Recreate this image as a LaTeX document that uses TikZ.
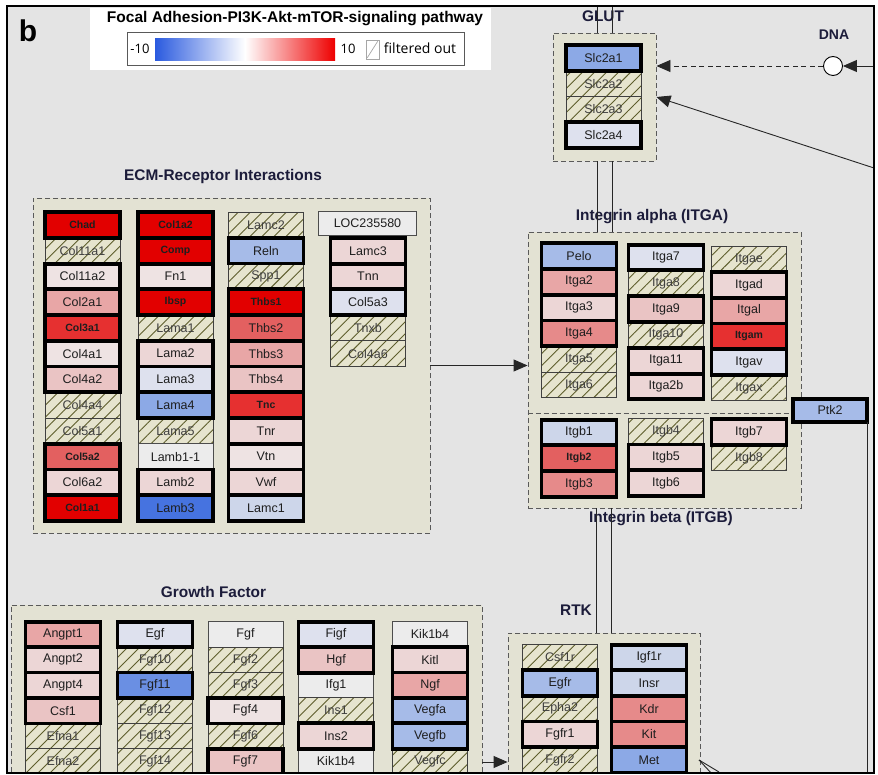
\documentclass[tikz,border=0pt]{standalone}
\usepackage{fontspec}
\setmainfont{Liberation Sans}
\newfontfamily\legfont{Open Sans}
\usetikzlibrary{patterns.meta,arrows.meta}
\definecolor{bgc}{HTML}{E4E4E4}
\definecolor{contbg}{HTML}{E3E2D3}
\definecolor{dashc}{HTML}{5A5A5A}
\definecolor{hatbg}{HTML}{E6E4CE}
\definecolor{hatln}{HTML}{5E5E2C}
\definecolor{txt}{HTML}{1E1E1E}
\definecolor{ttlc}{HTML}{1C1C3A}
\definecolor{cR1}{HTML}{E20000}
\definecolor{cR2}{HTML}{E63030}
\definecolor{cR3}{HTML}{E36060}
\definecolor{cR4}{HTML}{E68A8A}
\definecolor{cR5}{HTML}{E8A6A6}
\definecolor{cP1}{HTML}{EAC4C4}
\definecolor{cP2}{HTML}{ECD6D6}
\definecolor{cP3}{HTML}{EEE3E3}
\definecolor{cG}{HTML}{ECECEC}
\definecolor{cB1}{HTML}{DEE1EE}
\definecolor{cB2}{HTML}{CDD6EA}
\definecolor{cB3}{HTML}{A6BBE8}
\definecolor{cB4}{HTML}{8CA9E6}
\definecolor{cB5}{HTML}{4673E0}
\definecolor{cB6}{HTML}{6A8FE3}
\definecolor{legB}{HTML}{2A5ADF}
\definecolor{legR}{HTML}{EE0000}
\newcommand\gn[5]{\node[#1] (#2) at (#3,#4) {#5};}
\begin{document}
\begin{tikzpicture}[x=1pt,y=-1pt,
 gb/.style={rectangle, minimum width=75pt, minimum height=25.7pt, inner sep=0pt, outer sep=0pt, text=txt, font=\fontsize{12.5}{14}\selectfont},
 thk/.style={gb, draw=black, line width=3.8pt},
 thn/.style={gb, draw=gray!60!black, line width=0.8pt},
 hat/.style={gb, draw=gray!50!black, line width=0.8pt, preaction={fill=hatbg}, pattern={Lines[angle=45,distance=8.5pt,line width=0.9pt]}, pattern color=hatln, text=txt!85},
 bt/.style={font=\bfseries\fontsize{10.5}{12}\selectfont},
 cont/.style={rectangle, draw=dashc, dash pattern=on 5pt off 3pt, line width=0.9pt, fill=contbg, inner sep=0pt},
 ttl/.style={font=\bfseries\fontsize{15.4}{17}\selectfont, text=ttlc},
 conn/.style={draw=black!85, line width=0.9pt},
 tip/.style={-{Triangle[length=14pt,width=12pt]}}
]
\useasboundingbox (0,0) rectangle (878,775);
\fill[white] (0,0) rectangle (878,775);
\fill[bgc] (7,6) rectangle (874,773);
% legend
\fill[white] (90,8) rectangle (491,70);
\node[font=\bfseries\fontsize{15.5}{17}\selectfont] (legt) at (295,19) {Focal Adhesion-PI3K-Akt-mTOR-signaling pathway};
\draw[gray!70!black, line width=0.8pt] (127,32) rectangle (464,65);
\shade[left color=legB, right color=legR, middle color=white] (155,39) rectangle (335,61);
\node[font=\legfont\fontsize{13}{15}\selectfont] (lmin) at (140,49) {-10};
\node[font=\legfont\fontsize{13}{15}\selectfont] (lmax) at (348,49) {10};
\node[draw=gray!70, fill=white, minimum width=13pt, minimum height=19pt, inner sep=0pt] (lhat) at (372.5,49.5) {};
\draw[gray!70, line width=0.7pt] ([shift={(1.5,-1.5)}]lhat.south west) -- ([shift={(-1.5,1.5)}]lhat.north east);
\node[font=\legfont\fontsize{14}{16}\selectfont] (lfo) at (420,48.5) {filtered out};
\node[font=\bfseries\fontsize{30}{30}\selectfont] (lb) at (28,31) {b};

\begin{scope}
\clip (7,6) rectangle (874,773);
% containers
\node[cont, minimum width=103pt, minimum height=128pt] (glut) at (604.5,97) {};
\node[cont, minimum width=397pt, minimum height=335pt] (ecm) at (231.5,365.5) {};
\node[cont, minimum width=273pt, minimum height=276pt] (itg) at (664.5,370) {};
\node[cont, minimum width=471pt, minimum height=200pt] (gf) at (246.5,705) {};
\node[cont, minimum width=192pt, minimum height=180pt] (rtk) at (604,723) {};
\draw[dashc, dash pattern=on 5pt off 3pt, line width=0.9pt] (itg.west |- 0,413) -- (itg.east |- 0,413);
% titles
\node[ttl] (tglut) at (603,16) {GLUT};
\node[ttl] (tecm) at (223,177) {ECM-Receptor Interactions};
\node[ttl] (titga) at (652,217) {Integrin alpha (ITGA)};
\node[ttl] (titgb) at (661,519) {Integrin beta (ITGB)};
\node[ttl] (tgf) at (213.5,592) {Growth Factor};
\node[ttl] (trtk) at (576,610) {RTK};
\node[ttl, font=\bfseries\fontsize{14}{16}\selectfont] (tdna) at (834,35) {DNA};
% connectors
\draw[conn] ([xshift=-7.5pt]glut.north) -- ([xshift=-7.5pt]glut.north |- 0,6);
\draw[conn] ([xshift=7.5pt]glut.north) -- ([xshift=7.5pt]glut.north |- 0,6);
\draw[conn] ([xshift=-7.5pt]glut.south) -- ([xshift=-7.5pt]glut.south |- itg.north);
\draw[conn] ([xshift=7.5pt]glut.south) -- ([xshift=7.5pt]glut.south |- itg.north);
\draw[conn] ([xshift=-7.5pt]rtk.north) -- ([xshift=-7.5pt]rtk.north |- itg.south);
\draw[conn] ([xshift=7.5pt]rtk.north) -- ([xshift=7.5pt]rtk.north |- itg.south);
\node[circle, draw=black, line width=0.9pt, fill=white, minimum size=19pt, inner sep=0pt] (dna) at (833,66) {};
\coordinate (redge) at (874,66);
\coordinate (rlow) at (874,168);
\draw[conn, tip] (redge) -- (dna.east);
\draw[conn, tip, dash pattern=on 5pt off 3.5pt] (dna.west) -- (dna.west -| glut.east);
\draw[conn, tip] (rlow) -- (glut.east);
\draw[conn, tip] (ecm.east) -- (ecm.east -| itg.west);
\coordinate (gfa) at (482,762);
\draw[conn, tip] (gfa) -- (gfa -| rtk.west);
\coordinate (rb1) at (699,760);
\draw[conn] (rb1) -- ++(14,15);
\draw[conn] (rb1) -- ++(20,12);
% GLUT
\gn{hat}{slc2a2}{603.5}{83.7}{Slc2a2}
\gn{hat}{slc2a3}{603.5}{109.4}{Slc2a3}
\gn{thk,fill=cB4}{slc2a1}{603.5}{58}{Slc2a1}
\gn{thk,fill=cB1}{slc2a4}{603.5}{135.1}{Slc2a4}
% ECM col1
\gn{hat}{col11a1}{82.5}{225+25.73*1}{Col11a1}
\gn{hat}{col4a4}{82.5}{225+25.73*7}{Col4a4}
\gn{hat}{col5a1}{82.5}{225+25.73*8}{Col5a1}
\gn{thk,fill=cR1,bt}{chad}{82.5}{225}{Chad}
\gn{thk,fill=cP3}{col11a2}{82.5}{225+25.73*2}{Col11a2}
\gn{thk,fill=cR5}{col2a1}{82.5}{225+25.73*3}{Col2a1}
\gn{thk,fill=cR2,bt}{col3a1}{82.5}{225+25.73*4}{Col3a1}
\gn{thk,fill=cP3}{col4a1}{82.5}{225+25.73*5}{Col4a1}
\gn{thk,fill=cP1}{col4a2}{82.5}{225+25.73*6}{Col4a2}
\gn{thk,fill=cR3,bt}{col5a2}{82.5}{225+25.73*9}{Col5a2}
\gn{thk,fill=cP2}{col6a2}{82.5}{225+25.73*10}{Col6a2}
\gn{thk,fill=cR1,bt}{col1a1}{82.5}{225+25.73*11}{Col1a1}
% ECM col2
\gn{hat}{lama1}{175.5}{225+25.73*4}{Lama1}
\gn{hat}{lama5}{175.5}{225+25.73*8}{Lama5}
\gn{thn,fill=cG}{lamb11}{175.5}{225+25.73*9}{Lamb1-1}
\gn{thk,fill=cR1,bt}{col1a2}{175.5}{225}{Col1a2}
\gn{thk,fill=cR1,bt}{comp}{175.5}{225+25.73*1}{Comp}
\gn{thk,fill=cP3}{fn1}{175.5}{225+25.73*2}{Fn1}
\gn{thk,fill=cR1,bt}{ibsp}{175.5}{225+25.73*3}{Ibsp}
\gn{thk,fill=cP2}{lama2}{175.5}{225+25.73*5}{Lama2}
\gn{thk,fill=cB1}{lama3}{175.5}{225+25.73*6}{Lama3}
\gn{thk,fill=cB4}{lama4}{175.5}{225+25.73*7}{Lama4}
\gn{thk,fill=cP2}{lamb2}{175.5}{225+25.73*10}{Lamb2}
\gn{thk,fill=cB5}{lamb3}{175.5}{225+25.73*11}{Lamb3}
% ECM col3
\gn{hat}{lamc2}{266}{225}{Lamc2}
\gn{hat}{spp1}{266}{225+25.73*2}{Spp1}
\gn{thk,fill=cB3}{reln}{266}{225+25.73*1}{Reln}
\gn{thk,fill=cR1,bt}{thbs1}{266}{225+25.73*3}{Thbs1}
\gn{thk,fill=cR3}{thbs2}{266}{225+25.73*4}{Thbs2}
\gn{thk,fill=cR5}{thbs3}{266}{225+25.73*5}{Thbs3}
\gn{thk,fill=cP1}{thbs4}{266}{225+25.73*6}{Thbs4}
\gn{thk,fill=cR2,bt}{tnc}{266}{225+25.73*7}{Tnc}
\gn{thk,fill=cP2}{tnr}{266}{225+25.73*8}{Tnr}
\gn{thk,fill=cP3}{vtn}{266}{225+25.73*9}{Vtn}
\gn{thk,fill=cP2}{vwf}{266}{225+25.73*10}{Vwf}
\gn{thk,fill=cB2}{lamc1}{266}{225+25.73*11}{Lamc1}
% ECM col4
\gn{thn,fill=cG,minimum width=98pt,minimum height=24pt}{loc}{367.5}{223}{LOC235580}
\gn{hat}{tnxb}{368}{225+25.73*4}{Tnxb}
\gn{hat}{col4a6}{368}{225+25.73*5}{Col4a6}
\gn{thk,fill=cP2}{lamc3}{368}{225+25.73*1}{Lamc3}
\gn{thk,fill=cP2}{tnn}{368}{225+25.73*2}{Tnn}
\gn{thk,fill=cB1}{col5a3}{368}{225+25.73*3}{Col5a3}
% Integrin alpha col A
\gn{hat}{itga5}{579}{256+25.8*4}{Itga5}
\gn{hat}{itga6}{579}{256+25.8*5}{Itga6}
\gn{thk,fill=cB3}{pelo}{579}{256}{Pelo}
\gn{thk,fill=cR5}{itga2}{579}{256+25.8*1}{Itga2}
\gn{thk,fill=cP2}{itga3}{579}{256+25.8*2}{Itga3}
\gn{thk,fill=cR4}{itga4}{579}{256+25.8*3}{Itga4}
% col B
\gn{hat}{itga8}{666}{257.5+25.8*1}{Itga8}
\gn{hat}{itga10}{666}{257.5+25.8*3}{Itga10}
\gn{thk,fill=cB1}{itga7}{666}{257.5}{Itga7}
\gn{thk,fill=cP1}{itga9}{666}{257.5+25.8*2}{Itga9}
\gn{thk,fill=cP2}{itga11}{666}{257.5+25.8*4}{Itga11}
\gn{thk,fill=cP2}{itga2b}{666}{257.5+25.8*5}{Itga2b}
% col C
\gn{hat}{itgae}{749}{259}{Itgae}
\gn{hat}{itgax}{749}{259+25.8*5}{Itgax}
\gn{thk,fill=cP2}{itgad}{749}{259+25.8*1}{Itgad}
\gn{thk,fill=cR5}{itgal}{749}{259+25.8*2}{Itgal}
\gn{thk,fill=cR2,bt}{itgam}{749}{259+25.8*3}{Itgam}
\gn{thk,fill=cB1}{itgav}{749}{259+25.8*4}{Itgav}
% Integrin beta
\gn{hat}{itgb4}{666}{431.5}{Itgb4}
\gn{hat}{itgb8}{749}{432+25.8}{Itgb8}
\gn{thk,fill=cB2}{itgb1}{579}{432.5}{Itgb1}
\gn{thk,fill=cR3,bt}{itgb2}{579}{432.5+25.8}{Itgb2}
\gn{thk,fill=cR4}{itgb3}{579}{432.5+25.8*2}{Itgb3}
\gn{thk,fill=cP2}{itgb5}{666}{431.5+25.8}{Itgb5}
\gn{thk,fill=cP2}{itgb6}{666}{431.5+25.8*2}{Itgb6}
\gn{thk,fill=cP2}{itgb7}{749}{432}{Itgb7}
% Ptk2
\gn{thk,fill=cB3,minimum width=74pt,minimum height=23pt}{ptk2}{830}{410.5}{Ptk2}
\draw[conn] (ptk2.south east) -- (ptk2.south east |- 0,773);
% Growth factor col1
\gn{hat}{efna1}{63}{634.5+25.4*4}{Efna1}
\gn{hat}{efna2}{63}{634.5+25.4*5}{Efna2}
\gn{thk,fill=cR5}{angpt1}{63}{634.5}{Angpt1}
\gn{thk,fill=cP2}{angpt2}{63}{634.5+25.4*1}{Angpt2}
\gn{thk,fill=cP2}{angpt4}{63}{634.5+25.4*2}{Angpt4}
\gn{thk,fill=cP1}{csf1}{63}{634.5+25.4*3}{Csf1}
% col2
\gn{hat}{fgf10}{155}{634.5+25.4*1}{Fgf10}
\gn{hat}{fgf12}{155}{634.5+25.4*3}{Fgf12}
\gn{hat}{fgf13}{155}{634.5+25.4*4}{Fgf13}
\gn{hat}{fgf14}{155}{634.5+25.4*5}{Fgf14}
\gn{thk,fill=cB1}{egf}{155}{634.5}{Egf}
\gn{thk,fill=cB6}{fgf11}{155}{634.5+25.4*2}{Fgf11}
% col3
\gn{thn,fill=cG}{fgf}{245.5}{634.5}{Fgf}
\gn{hat}{fgf2}{245.5}{634.5+25.4*1}{Fgf2}
\gn{hat}{fgf3}{245.5}{634.5+25.4*2}{Fgf3}
\gn{hat}{fgf6}{245.5}{634.5+25.4*4}{Fgf6}
\gn{thk,fill=cP3}{fgf4}{245.5}{634.5+25.4*3}{Fgf4}
\gn{thk,fill=cP1}{fgf7}{245.5}{634.5+25.4*5}{Fgf7}
% col4
\gn{thn,fill=cG}{ifg1}{336}{634.5+25.4*2}{Ifg1}
\gn{hat}{ins1}{336}{634.5+25.4*3}{Ins1}
\gn{thn,fill=cG}{kikA}{336}{634.5+25.4*5}{Kik1b4}
\gn{thk,fill=cB1}{figf}{336}{634.5}{Figf}
\gn{thk,fill=cP1}{hgf}{336}{634.5+25.4*1}{Hgf}
\gn{thk,fill=cP2}{ins2}{336}{634.5+25.4*4}{Ins2}
% col5
\gn{thn,fill=cG}{kikB}{430}{634.5}{Kik1b4}
\gn{hat}{vegfc}{430}{634.5+25.4*5}{Vegfc}
\gn{thk,fill=cP2}{kitl}{430}{634.5+25.4*1}{Kitl}
\gn{thk,fill=cR5}{ngf}{430}{634.5+25.4*2}{Ngf}
\gn{thk,fill=cB3}{vegfa}{430}{634.5+25.4*3}{Vegfa}
\gn{thk,fill=cB3}{vegfb}{430}{634.5+25.4*4}{Vegfb}
% RTK col1
\gn{hat}{csf1r}{560}{657.5}{Csf1r}
\gn{hat}{epha2}{560}{657.5+25.6*2}{Epha2}
\gn{hat}{fgfr2}{560}{657.5+25.6*4}{Fgfr2}
\gn{thk,fill=cB3}{egfr}{560}{657.5+25.6*1}{Egfr}
\gn{thk,fill=cP2}{fgfr1}{560}{657.5+25.6*3}{Fgfr1}
% RTK col2
\gn{thk,fill=cB2}{igf1r}{649}{657.5}{Igf1r}
\gn{thk,fill=cB2}{insr}{649}{657.5+25.6*1}{Insr}
\gn{thk,fill=cR4}{kdr}{649}{657.5+25.6*2}{Kdr}
\gn{thk,fill=cR4}{kit}{649}{657.5+25.6*3}{Kit}
\gn{thk,fill=cB4}{met}{649}{657.5+25.6*4}{Met}
\end{scope}
\draw[black, line width=2pt] (7,6) rectangle (874,773);
\end{tikzpicture}
\end{document}
